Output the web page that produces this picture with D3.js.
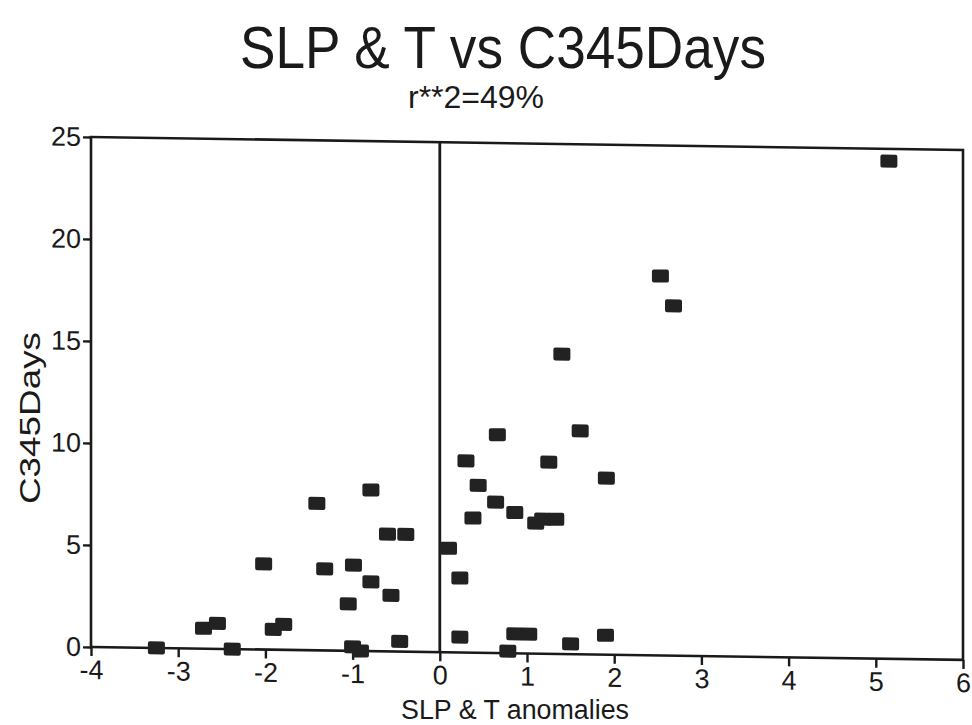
<!DOCTYPE html>
<html>
<head>
<meta charset="utf-8">
<script src="https://cdn.jsdelivr.net/npm/d3@7"></script>
<style>
  body { margin: 0; background: #fff; }
  svg { display: block; font-family: "Liberation Sans", Arial, sans-serif; }
</style>
</head>
<body>
<div id="chart"></div>
<script>
// anomaly values (x) and C345Days (y)
var anom = [-3.25, -2.71, -2.55, -2.38, -2.02, -1.91, -1.79, -1.41, -1.32, -1.05,
            -0.99, -1.00, -0.91, -0.79, -0.79, -0.60, -0.56, -0.39, -0.46, 0.10,
            0.23, 0.23, 0.30, 0.38, 0.44, 0.64, 0.66, 0.78, 0.86, 0.86,
            1.02, 1.10, 1.18, 1.33, 1.25, 1.40, 1.50, 1.61, 1.91, 1.90,
            2.53, 2.68, 5.15];
var days = [0.0, 1.0, 1.25, 0.0, 4.2, 1.0, 1.25, 7.2, 4.0, 2.3,
            4.2, 0.2, 0.0, 7.9, 3.4, 5.75, 2.75, 5.75, 0.5, 5.1,
            3.65, 0.75, 9.4, 6.6, 8.2, 7.4, 10.7, 0.1, 6.9, 0.95,
            0.95, 6.4, 6.6, 6.6, 9.4, 14.7, 0.5, 10.95, 8.65, 0.95,
            18.6, 17.15, 24.4];
var xTicks = [-4, -3, -2, -1, 0, 1, 2, 3, 4, 5, 6];
var yTicks = [0, 5, 10, 15, 20, 25];

var W = 972, H = 725;
var svg = d3.select("#chart").append("svg")
  .attr("width", W)
  .attr("height", H);

var x = d3.scaleLinear().domain([-4, 6]).range([91, 963]);
var y = d3.scaleLinear().domain([0, 25]).range([647, 137]);

// titles
svg.append("text")
  .attr("x", 503).attr("y", 68)
  .attr("text-anchor", "middle")
  .attr("font-size", 60)
  .attr("textLength", 526).attr("lengthAdjust", "spacingAndGlyphs")
  .attr("fill", "#1a1a1a")
  .text("SLP & T vs C345Days");

svg.append("text")
  .attr("x", 476).attr("y", 108)
  .attr("text-anchor", "middle")
  .attr("font-size", 31)
  .attr("textLength", 136).attr("lengthAdjust", "spacingAndGlyphs")
  .attr("fill", "#1a1a1a")
  .text("r**2=49%");

// scanned page is slightly skewed, so the plot goes in a skewed group
var g = svg.append("g")
  .attr("transform", "translate(91,0) skewY(0.85) translate(-91,0)");

g.append("rect")
  .attr("x", x(-4)).attr("y", y(25))
  .attr("width", x(6) - x(-4)).attr("height", y(0) - y(25))
  .attr("fill", "none").attr("stroke", "#1a1a1a").attr("stroke-width", 2.6);

g.append("line")
  .attr("x1", x(0)).attr("x2", x(0))
  .attr("y1", y(0)).attr("y2", y(25))
  .attr("stroke", "#1a1a1a").attr("stroke-width", 2.8);

var xAxis = g.append("g")
  .attr("transform", "translate(0," + y(0) + ")")
  .call(d3.axisBottom(x).tickValues(xTicks).tickSize(9).tickPadding(4).tickFormat(d3.format("d")));
var yAxis = g.append("g")
  .attr("transform", "translate(" + x(-4) + ",0)")
  .call(d3.axisLeft(y).tickValues(yTicks).tickSize(8).tickPadding(2).tickFormat(d3.format("d")));

[xAxis, yAxis].forEach(function(ax) {
  ax.select(".domain").remove();
  ax.selectAll("line").attr("stroke", "#1a1a1a").attr("stroke-width", 2.4);
  ax.selectAll("text")
    .attr("fill", "#1a1a1a")
    .attr("font-family", "Liberation Sans, Arial, sans-serif")
    .attr("font-size", 27);
});
xAxis.selectAll("text").text(function(d) { return d < 0 ? "-" + Math.abs(d) : d; });

// markers
g.selectAll("rect.pt")
  .data(anom)
  .enter().append("rect")
  .attr("class", "pt")
  .attr("x", function(d) { return x(d) - 8.5; })
  .attr("y", function(d, i) { return y(days[i]) - 6.5; })
  .attr("width", 17).attr("height", 13)
  .attr("rx", 2)
  .attr("fill", "#222");

// axis titles
svg.append("text")
  .attr("x", 515).attr("y", 719)
  .attr("text-anchor", "middle")
  .attr("font-size", 27)
  .attr("textLength", 228).attr("lengthAdjust", "spacingAndGlyphs")
  .attr("fill", "#1a1a1a")
  .text("SLP & T anomalies");

svg.append("text")
  .attr("transform", "translate(40,418) rotate(-90)")
  .attr("text-anchor", "middle")
  .attr("font-size", 30)
  .attr("textLength", 172).attr("lengthAdjust", "spacingAndGlyphs")
  .attr("fill", "#1a1a1a")
  .text("C345Days");
</script>
</body>
</html>
